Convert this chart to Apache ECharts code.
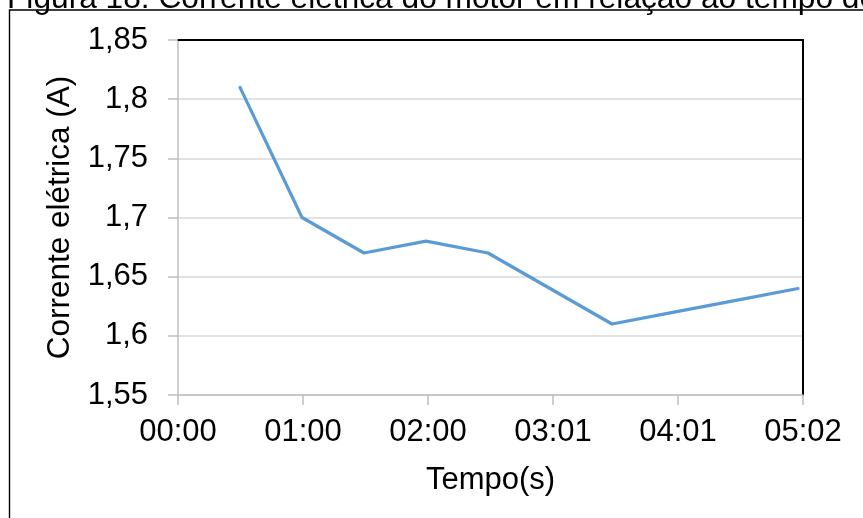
<!DOCTYPE html>
<html>
<head>
<meta charset="utf-8">
<script src="https://cdn.jsdelivr.net/npm/echarts@6/dist/echarts.min.js"></script>
<style>
html,body{margin:0;padding:0;background:#fff;}
#chart{width:863px;height:518px;}
</style>
</head>
<body>
<div id="chart"></div>
<script>
// Data
const timeSeconds = [30, 60, 90, 120, 150, 180, 210, 240, 270, 300];
const currentA = [1.81, 1.70, 1.67, 1.68, 1.67, 1.64, 1.61, 1.62, 1.63, 1.64];
const xTickLabels = ['00:00', '01:00', '02:00', '03:01', '04:01', '05:02'];
const yTickLabels = ['1,55', '1,6', '1,65', '1,7', '1,75', '1,8', '1,85'];
const titleText = 'Figura 18: Corrente elétrica do motor em relação ao tempo de';
const xName = 'Tempo(s)';
const yName = 'Corrente elétrica (A)';

const FONT = '"Liberation Sans", Arial, sans-serif';
const chart = echarts.init(document.getElementById('chart'), null, {renderer: 'canvas'});

const points = timeSeconds.map((t, i) => [t, currentA[i]]);

const option = {
  animation: false,
  backgroundColor: '#fff',
  title: {
    text: titleText,
    left: 7,
    top: -17,
    padding: 0,
    textStyle: {fontFamily: FONT, fontSize: 31.7, fontWeight: 'normal', color: '#000'}
  },
  graphic: [{
    type: 'rect',
    shape: {x: 9.5, y: 10, width: 1000, height: 1000},
    style: {fill: 'none', stroke: '#000', lineWidth: 1.4},
    silent: true
  }],
  grid: {left: 178, right: 60, top: 40, bottom: 123, containLabel: false},
  xAxis: [{
    type: 'value',
    min: 0,
    max: 302.4,
    interval: 60.48,
    name: xName,
    nameLocation: 'middle',
    nameGap: 70,
    nameTextStyle: {fontFamily: FONT, fontSize: 31, color: '#000'},
    axisLine: {show: true, onZero: false, lineStyle: {color: '#bfbfbf', width: 1.5}},
    axisTick: {show: true, length: 10, lineStyle: {color: '#bfbfbf', width: 1.5}},
    axisLabel: {
      margin: 22,
      fontFamily: FONT, fontSize: 31, color: '#000',
      formatter: (v, i) => xTickLabels[i] !== undefined ? xTickLabels[i] : ''
    },
    splitLine: {show: false}
  }, {
    type: 'value',
    position: 'top',
    min: 0,
    max: 302.4,
    axisLine: {show: true, onZero: false, lineStyle: {color: '#000', width: 2}},
    axisTick: {show: false},
    axisLabel: {show: false},
    splitLine: {show: false}
  }],
  yAxis: [{
    type: 'value',
    min: 1.55,
    max: 1.85,
    interval: 0.05,
    name: yName,
    nameLocation: 'middle',
    nameGap: 96,
    nameTextStyle: {fontFamily: FONT, fontSize: 31.5, color: '#000'},
    axisLine: {show: true, onZero: false, lineStyle: {color: '#bfbfbf', width: 1.5}},
    axisTick: {show: true, length: 10, lineStyle: {color: '#bfbfbf', width: 1.5}},
    axisLabel: {
      margin: 30,
      fontFamily: FONT, fontSize: 31, color: '#000',
      formatter: (v, i) => yTickLabels[i] !== undefined ? yTickLabels[i] : ''
    },
    splitLine: {show: true, lineStyle: {color: '#d9d9d9', width: 1.5}}
  }, {
    type: 'value',
    position: 'right',
    min: 1.55,
    max: 1.85,
    axisLine: {show: true, onZero: false, lineStyle: {color: '#000', width: 2}},
    axisTick: {show: false},
    axisLabel: {show: false},
    splitLine: {show: false}
  }],
  series: [{
    type: 'line',
    xAxisIndex: 0,
    yAxisIndex: 0,
    data: points,
    showSymbol: false,
    symbol: 'none',
    lineStyle: {color: '#5b9bd5', width: 3.2, cap: 'round', join: 'round'},
    clip: false
  }]
};
chart.setOption(option);
</script>
</body>
</html>
